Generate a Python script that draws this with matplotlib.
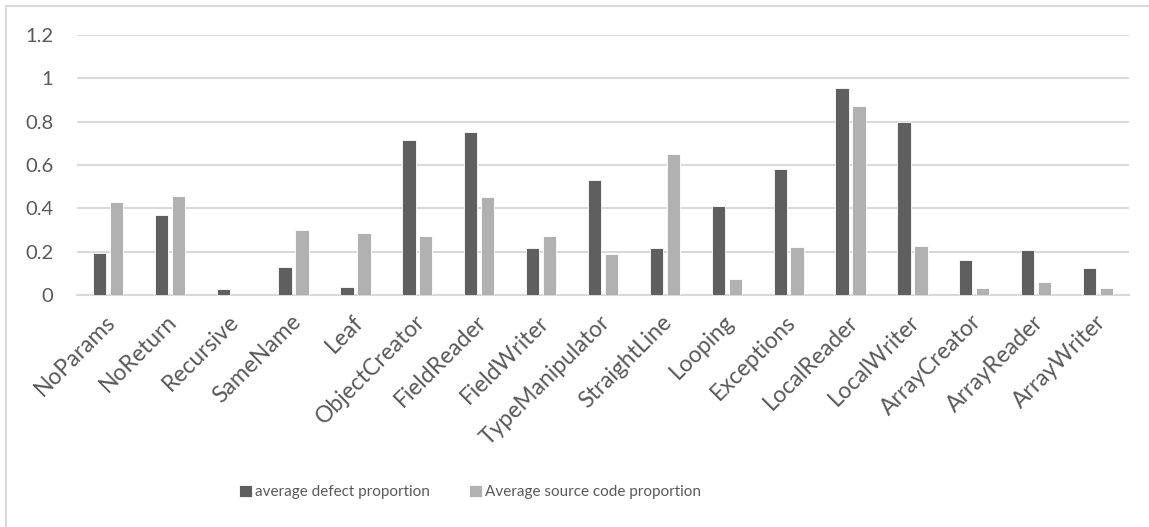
import matplotlib
matplotlib.use("Agg")
import matplotlib.pyplot as plt
import matplotlib.transforms as mtransforms
import numpy as np
from matplotlib.patches import Rectangle

categories = ["NoParams", "NoReturn", "Recursive", "SameName", "Leaf",
              "ObjectCreator", "FieldReader", "FieldWriter", "TypeManipulator",
              "StraightLine", "Looping", "Exceptions", "LocalReader",
              "LocalWriter", "ArrayCreator", "ArrayReader", "ArrayWriter"]
defect = [0.192, 0.368, 0.026, 0.128, 0.038, 0.717, 0.752, 0.215, 0.529,
          0.215, 0.409, 0.581, 0.954, 0.800, 0.162, 0.209, 0.126]
source = [0.428, 0.457, 0.0, 0.298, 0.286, 0.274, 0.451, 0.274, 0.191,
          0.652, 0.072, 0.220, 0.871, 0.226, 0.032, 0.060, 0.032]
yticks = [0, 0.2, 0.4, 0.6, 0.8, 1, 1.2]
ytick_labels = ["0", "0.2", "0.4", "0.6", "0.8", "1", "1.2"]
series_names = ["average defect proportion", "Average source code proportion"]

plt.rcParams["font.family"] = ["Lato", "DejaVu Sans"]
text_color = "#595959"
dark = "#5f5f5f"
light = "#b1b1b1"
grid = "#d9d9d9"

W, H = 1149, 527
fig = plt.figure(figsize=(W / 100, H / 100), dpi=100)
ax = fig.add_axes([77 / W, 1 - 295 / H, (1129 - 77) / W, (295 - 35) / H])

x = np.arange(len(categories))
bw = 0.215
off = 0.137
b1 = ax.bar(x - off, defect, bw, color=dark, edgecolor="white", linewidth=0.6,
            label=series_names[0], zorder=3)
b2 = ax.bar(x + off, source, bw, color=light, edgecolor="white", linewidth=0.6,
            label=series_names[1], zorder=3)

ax.set_xlim(-0.5, len(categories) - 0.5)
ax.set_ylim(0, 1.2)
ax.set_yticks(yticks)
ax.set_yticklabels(ytick_labels)
ax.yaxis.grid(True, color=grid, linewidth=1.5, zorder=0)
ax.set_axisbelow(True)
for s in ["top", "right", "left"]:
    ax.spines[s].set_visible(False)
ax.spines["bottom"].set_color(grid)
ax.spines["bottom"].set_linewidth(1.5)
ax.tick_params(axis="both", length=0, colors=text_color)
ax.tick_params(axis="y", pad=17, labelsize=14.5)
ax.set_xticks(x)
ax.set_xticklabels(categories, rotation=45, ha="right", va="center",
                   rotation_mode="anchor", color=text_color, fontsize=16.5)
ax.tick_params(axis="x", pad=17)
shift = mtransforms.ScaledTranslation(4 / 100, 0, fig.dpi_scale_trans)
for lab in ax.get_xticklabels():
    lab.set_transform(lab.get_transform() + shift)

leg = fig.legend(handles=[b1, b2], labels=series_names, loc="center",
                 bbox_to_anchor=(470 / W, 1 - 492 / H), ncol=2, frameon=False,
                 fontsize=11, handlelength=0.8, handleheight=0.8,
                 handletextpad=0.2, columnspacing=2.6, labelcolor=text_color)

# chart outline
fig.patches.append(Rectangle((6 / W, -0.1), 1.2, 1 - 6 / H + 0.1,
                             transform=fig.transFigure, fill=False,
                             edgecolor="#d9d9d9", linewidth=1.5))

fig.savefig("out.png", dpi=100, facecolor="white")
